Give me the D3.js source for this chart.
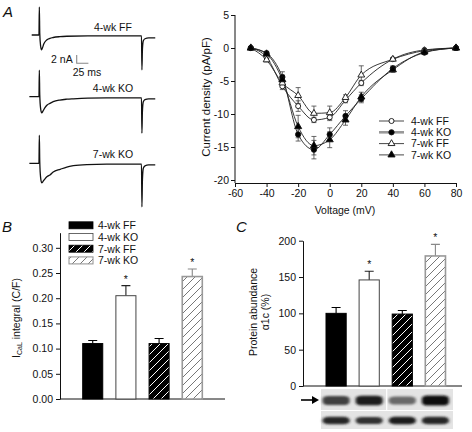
<!DOCTYPE html>
<html><head><meta charset="utf-8">
<script src="https://cdn.jsdelivr.net/npm/d3@7"></script>
<style>
body{margin:0;background:#fff;}
svg{display:block;font-family:"Liberation Sans",Arial,Helvetica,sans-serif;}
</style></head><body>
<svg id="fig" width="472" height="432"></svg>
<script>
// ---------- DATA ----------
// Panel A (left): example current traces, [time ms, current nA]
const traceNames = ["4-wk FF", "4-wk KO", "7-wk KO"];
const trace4FF = [[0,0],[15.5,0],[16.3,6.8],[17.2,0.5],[19,-2.6],[21,-3.6],[23,-3.1],[26,-2.1],[32,-1.2],[39,-0.8],[46,-0.6],[60,-0.4],[75,-0.3],[120,-0.2],[234.6,-0.2],[235.5,-8.4],[236.6,-3.5],[238.5,-1.4],[242,-0.9],[250,-0.7],[264,-0.7]];
const trace4KO = [[-5,0],[15.5,0],[16.3,6.4],[17.2,0.5],[19,-2.8],[21.4,-3.9],[24,-3.5],[28,-2.7],[33,-2.0],[39,-1.6],[46,-1.2],[60,-0.8],[75,-0.6],[89,-0.5],[120,-0.35],[160,-0.3],[234.6,-0.3],[235.5,-8.8],[236.6,-3.5],[238.5,-1.2],[242,-0.7],[250,-0.5],[264,-0.5]];
const trace7KO = [[-5,0],[15.5,0],[16.3,6.8],[17.2,0.5],[19,-3.4],[21.4,-4.7],[24,-4.4],[28,-3.8],[33,-3.2],[39,-2.8],[46,-2.1],[61,-1.45],[75,-0.9],[89,-0.58],[118,-0.3],[160,-0.2],[234.6,-0.2],[235.5,-10.5],[236.6,-4.0],[238.5,-1.2],[242,-0.6],[250,-0.4],[264,-0.4]];
const traces = [trace4FF, trace4KO, trace7KO];

// Panel A (right): current-voltage relation
const voltages = [-50,-40,-30,-20,-10,0,10,20,40,60,80];
const ivFF4 = [0,-1.4,-5.8,-8.8,-10.9,-10.5,-7.9,-5.3,-1.7,-0.3,0];
const ivKO4 = [0,-0.8,-4.4,-13.1,-15.4,-13.1,-10.3,-7.7,-3.1,-0.7,0];
const ivFF7 = [0,-1.8,-5.3,-7.2,-9.9,-9.8,-7.5,-4.1,-1.7,-0.4,0];
const ivKO7 = [0,-0.9,-4.8,-11.9,-14.8,-13.9,-10.9,-7.4,-3.3,-0.6,0];
const errFF4 = [0,0.3,0.5,0.8,0.4,0.5,0.4,0.4,0.2,0.1,0];
const errKO4 = [0,0.3,0.8,1.0,1.4,1.0,0.8,0.6,0.4,0.2,0];
const errFF7 = [0,0.3,0.6,1.2,1.1,1.0,0.4,1.4,0.2,0.1,0];
const errKO7 = [0,0.3,0.7,1.7,1.4,1.2,0.8,0.7,0.4,0.2,0];
const ivLabels = ["4-wk FF","4-wk KO","7-wk FF","7-wk KO"];
const ivXTicks = [-60,-40,-20,0,20,40,60,80];
const ivYTicks = [5,0,-5,-10,-15,-20];

// Panel B: ICaL integral
const groups = ["4-wk FF","4-wk KO","7-wk FF","7-wk KO"];
const integral = [0.110, 0.205, 0.110, 0.243];
const integralErr = [0.006, 0.020, 0.010, 0.015];
const integralSig = [false, true, false, true];
const integralTicks = [0,0.05,0.10,0.15,0.20,0.25,0.30];

// Panel C: protein abundance
const abundance = [100, 146, 99, 179];
const abundanceErr = [8, 12, 5, 16];
const abundanceSig = [false, true, false, true];
const abundanceTicks = [0,50,100,150,200];
const blotTop = [0.75, 0.92, 0.55, 1.0];
const blotBottom = [0.88, 0.82, 0.92, 0.88];

// ---------- DRAW ----------
const svg = d3.select("#fig");
const FS = 10.5;
const defs = svg.append("defs");

function hatch(id, bg, fg){
  const p = defs.append("pattern").attr("id", id).attr("patternUnits","userSpaceOnUse")
    .attr("width", 8).attr("height", 8);
  p.append("rect").attr("width",8).attr("height",8).attr("fill",bg);
  p.append("path").attr("d","M-2,2 L2,-2 M0,8 L8,0 M6,10 L10,6")
    .attr("stroke",fg).attr("stroke-width",1).attr("fill","none");
}
hatch("hatchBlack","#000","#fff");
hatch("hatchWhite","#fff","#777");
const blur = defs.append("filter").attr("id","blur").attr("x","-30%").attr("y","-100%").attr("width","160%").attr("height","300%");
blur.append("feGaussianBlur").attr("stdDeviation","1.5 1.1");

const barStyle = [
  {fill:"#000", stroke:"#000", sw:1, err:"#000"},
  {fill:"#fff", stroke:"#444", sw:1, err:"#222"},
  {fill:"url(#hatchBlack)", stroke:"#000", sw:1, err:"#000"},
  {fill:"url(#hatchWhite)", stroke:"#999", sw:1.6, err:"#888"}
];

function panelLetter(t,x,y){
  svg.append("text").attr("x",x).attr("y",y).attr("font-size",15).attr("font-style","italic")
    .attr("fill","#111").text(t);
}
function styleAxis(g){
  g.selectAll("path,line").attr("stroke","#111").attr("stroke-width",1);
  g.selectAll("text").attr("font-size",FS).attr("fill","#111").attr("font-family","'Liberation Sans',Arial,sans-serif");
}

// ----- Panel A traces -----
panelLetter("A",3,17);
const tx = d3.scaleLinear().domain([0,25]).range([31.7,31.7+11.7]);
const baselines = [35, 96.7, 163.3];
const nA = 4.15; // px per nA via scale
traces.forEach((tr,i)=>{
  const ty = d3.scaleLinear().domain([0,2]).range([baselines[i], baselines[i]-2*nA]);
  svg.append("path").datum(tr)
    .attr("d", d3.line().x(d=>tx(d[0])).y(d=>ty(d[1])).curve(d3.curveMonotoneX))
    .attr("fill","none").attr("stroke","#111").attr("stroke-width",1.3);
});
[31,92,158].forEach((y,i)=>{
  svg.append("text").attr("x",113).attr("y",y).attr("text-anchor","middle")
    .attr("font-size",FS).attr("fill","#111").text(traceNames[i]);
});
// scale bar 2 nA / 25 ms
{
  const sbx = tx(0) + (76.7-31.7), sby = 63.3;
  const sy = d3.scaleLinear().domain([0,2]).range([sby, sby-2*nA]);
  const sx = d3.scaleLinear().domain([0,25]).range([sbx, sbx+11.7]);
  svg.append("path").attr("d",`M${sx(0)},${sy(2)}V${sy(0)}H${sx(25)}`)
    .attr("fill","none").attr("stroke","#888").attr("stroke-width",1.1);
  svg.append("text").attr("x",sx(0)-4).attr("y",63).attr("text-anchor","end").attr("font-size",FS).attr("fill","#111").text("2 nA");
  svg.append("text").attr("x",sx(0)-4).attr("y",76).attr("font-size",FS).attr("fill","#111").text("25 ms");
}

// ----- Panel A IV curve -----
const xIV = d3.scaleLinear().domain([-60,80]).range([235,456]);
const yIV = d3.scaleLinear().domain([-20,5]).range([180,15]);
{
  const gx = svg.append("g").attr("transform","translate(0,183)")
    .call(d3.axisBottom(xIV).tickValues(ivXTicks).tickSize(4).tickSizeOuter(0).tickPadding(3));
  styleAxis(gx);
  const gy = svg.append("g").attr("transform","translate(235,0)")
    .call(d3.axisLeft(yIV).tickValues(ivYTicks).tickSize(4).tickSizeOuter(0).tickPadding(2).tickFormat(d3.format("d")));
  gy.select(".domain").attr("d","M0,15V183");
  styleAxis(gy);
  gy.selectAll("text").text(d=>d<0? "-"+Math.abs(d): d);
  gx.selectAll("text").text(d=>d<0? "-"+Math.abs(d): d);
  svg.append("text").attr("x",345).attr("y",214).attr("text-anchor","middle").attr("font-size",FS).attr("fill","#111").text("Voltage (mV)");
  svg.append("text").attr("transform","translate(210,97) rotate(-90)").attr("text-anchor","middle")
    .attr("font-size",11.5).attr("fill","#111").text("Current density (pA/pF)");

  const series = [
    {v:ivFF4, e:errFF4, sym:d3.symbolCircle, fill:"#fff", size:20},
    {v:ivKO4, e:errKO4, sym:d3.symbolCircle, fill:"#000", size:22},
    {v:ivFF7, e:errFF7, sym:d3.symbolTriangle, fill:"#fff", size:20},
    {v:ivKO7, e:errKO7, sym:d3.symbolTriangle, fill:"#000", size:22}
  ];
  const line = d3.line().x((d,i)=>xIV(voltages[i])).y(d=>yIV(d)).curve(d3.curveMonotoneX);
  series.forEach(s=>{
    svg.append("path").datum(s.v).attr("d",line).attr("fill","none").attr("stroke","#222").attr("stroke-width",0.9);
  });
  series.forEach(s=>{
    const g = svg.append("g");
    s.v.forEach((v,i)=>{
      if(s.e[i] > 0.15){
        const x = xIV(voltages[i]);
        g.append("path").attr("d",`M${x},${yIV(v-s.e[i])}V${yIV(v+s.e[i])}M${x-2.5},${yIV(v-s.e[i])}h5M${x-2.5},${yIV(v+s.e[i])}h5`)
          .attr("stroke","#444").attr("stroke-width",0.8).attr("fill","none");
      }
    });
  });
  series.forEach(s=>{
    svg.append("g").selectAll("path").data(s.v).join("path")
      .attr("transform",(d,i)=>`translate(${xIV(voltages[i])},${yIV(d)})`)
      .attr("d", d3.symbol().type(s.sym).size(s.size))
      .attr("fill",s.fill).attr("stroke","#111").attr("stroke-width",0.9);
  });
  // legend
  series.forEach((s,i)=>{
    const y = 121 + i*11.3;
    svg.append("line").attr("x1",379).attr("x2",404).attr("y1",y).attr("y2",y)
      .attr("stroke", i===1? "#999":"#333").attr("stroke-width", i===1? 2.6:0.9);
    svg.append("path").attr("transform",`translate(391.5,${y})`).attr("d",d3.symbol().type(s.sym).size(s.size))
      .attr("fill",s.fill).attr("stroke","#111").attr("stroke-width",0.9);
    svg.append("text").attr("x",411).attr("y",y+3.8).attr("font-size",FS).attr("fill","#111").text(ivLabels[i]);
  });
}

// ----- Panel B -----
panelLetter("B",2,232);
{
  const x = d3.scaleBand().domain(groups).range([82.7,202.3]).paddingInner(0.396).paddingOuter(0);
  const y = d3.scaleLinear().domain([0,0.33]).range([399,232.7]);
  const gy = svg.append("g").attr("transform","translate(60,0)")
    .call(d3.axisLeft(y).tickValues(integralTicks).tickSize(4).tickSizeOuter(0).tickPadding(3).tickFormat(d3.format(".2f")));
  styleAxis(gy);
  svg.append("line").attr("x1",60).attr("x2",225).attr("y1",399).attr("y2",399).attr("stroke","#111");
  groups.forEach((gname,i)=>{
    const st = barStyle[i], bx = x(gname), bw = x.bandwidth();
    const cx = bx + bw/2, top = y(integral[i]), cap = y(integral[i]+integralErr[i]);
    svg.append("path").attr("d",`M${cx},${top}V${cap}M${cx-4.5},${cap}h9`).attr("stroke",st.err).attr("stroke-width",1.1);
    svg.append("rect").attr("x",bx).attr("y",top).attr("width",bw).attr("height",399-top)
      .attr("fill",st.fill).attr("stroke",st.stroke).attr("stroke-width",st.sw);
    if(integralSig[i]) svg.append("text").attr("x",cx).attr("y",cap-3).attr("text-anchor","middle").attr("font-size",FS).attr("fill","#111").text("*");
  });
  svg.append("text").attr("transform","translate(20,318) rotate(-90)").attr("text-anchor","middle")
    .attr("font-size",FS).attr("fill","#111")
    .call(t=>{ t.append("tspan").text("I");
      t.append("tspan").attr("font-size",7).attr("dy",2).text("CaL");
      t.append("tspan").attr("dy",-2).text(" integral (C/F)"); });
  // legend
  groups.forEach((gname,i)=>{
    const st = barStyle[i], ly = 225.3 + i*11.7;
    svg.append("rect").attr("x",69).attr("y",ly-3.5).attr("width",24).attr("height",7)
      .attr("fill",st.fill).attr("stroke",st.stroke).attr("stroke-width",st.sw===1?0.8:1.1);
    svg.append("text").attr("x",98).attr("y",ly+3.8).attr("font-size",FS).attr("fill","#111").text(gname);
  });
}

// ----- Panel C -----
panelLetter("C",236,232);
{
  const x = d3.scaleBand().domain(groups).range([326,445.5]).paddingInner(0.39).paddingOuter(0);
  const y = d3.scaleLinear().domain([0,200]).range([386,240.7]);
  const gy = svg.append("g").attr("transform","translate(303,0)")
    .call(d3.axisLeft(y).tickValues(abundanceTicks).tickSize(4).tickSizeOuter(0).tickPadding(3));
  styleAxis(gy);
  svg.append("line").attr("x1",303).attr("x2",462).attr("y1",386).attr("y2",386).attr("stroke","#111");
  groups.forEach((gname,i)=>{
    const st = barStyle[i], bx = x(gname), bw = x.bandwidth();
    const cx = bx + bw/2, top = y(abundance[i]), cap = y(abundance[i]+abundanceErr[i]);
    svg.append("path").attr("d",`M${cx},${top}V${cap}M${cx-4.5},${cap}h9`).attr("stroke",st.err).attr("stroke-width",1.1);
    svg.append("rect").attr("x",bx).attr("y",top).attr("width",bw).attr("height",386-top)
      .attr("fill",st.fill).attr("stroke",st.stroke).attr("stroke-width",st.sw);
    if(abundanceSig[i]) svg.append("text").attr("x",cx).attr("y",cap-3).attr("text-anchor","middle").attr("font-size",FS).attr("fill","#111").text("*");
  });
  const lab = svg.append("text").attr("transform","translate(257,312) rotate(-90)").attr("text-anchor","middle")
    .attr("font-size",FS).attr("fill","#111");
  lab.append("tspan").attr("x",0).attr("dy",0).text("Protein abundance");
  lab.append("tspan").attr("x",0).attr("dy",12).text("\u03b11c (%)");

  // western blot
  const bg = svg.append("g");
  bg.append("rect").attr("x",321).attr("y",389).attr("width",132).attr("height",40).attr("fill","#e4e4e4");
  const rows = [{vals:blotTop, cy:400.5, h:4.2}, {vals:blotBottom, cy:420.5, h:3.2}];
  const grey = v => { const c = Math.round(215 - v*200); return d3.rgb(c,c,c).formatHex(); };
  rows.forEach(r=>{
    r.vals.forEach((v,i)=>{
      const cx = x(groups[i]) + x.bandwidth()/2;
      bg.append("rect").attr("x",cx-13.5).attr("y",r.cy-r.h*(0.7+0.5*v)).attr("width",27)
        .attr("height",2*r.h*(0.7+0.5*v)).attr("rx",6).attr("ry",3)
        .attr("fill",grey(v)).attr("filter","url(#blur)");
    });
  });
  bg.append("line").attr("x1",321).attr("x2",453).attr("y1",410.5).attr("y2",410.5).attr("stroke","#fff").attr("stroke-width",1.2);
  bg.append("line").attr("x1",386.7).attr("x2",386.7).attr("y1",389).attr("y2",410.5).attr("stroke","#fff").attr("stroke-width",1.2);
  // arrow
  svg.append("path").attr("d","M301,400H313").attr("stroke","#000").attr("stroke-width",1.6);
  svg.append("path").attr("d","M312,396L319,400L312,404Z").attr("fill","#000");
}
</script>
</body></html>
